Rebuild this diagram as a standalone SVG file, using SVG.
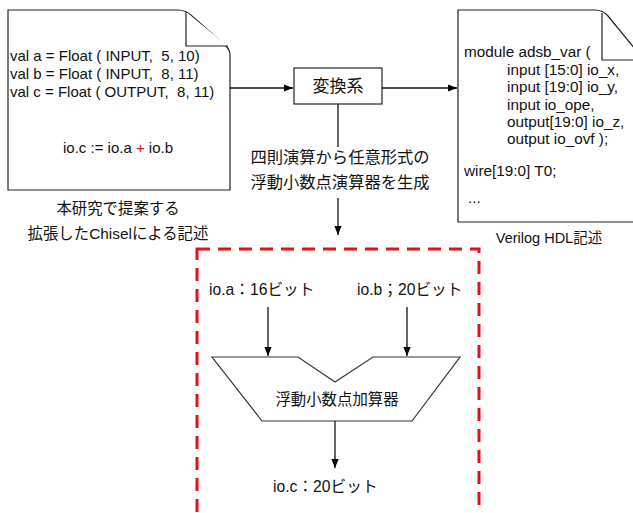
<svg xmlns="http://www.w3.org/2000/svg" width="633" height="513" viewBox="0 0 633 513">
<defs>
<marker id="ah" viewBox="0 0 10 10" refX="10" refY="5" markerWidth="9" markerHeight="9" markerUnits="userSpaceOnUse" orient="auto">
<path d="M0,1 L10,5 L0,9 Z" fill="#000"/>
</marker>
<style>
text{font-family:"Liberation Sans","Noto Sans CJK JP",sans-serif;fill:#111}
.doc{fill:#fff;stroke:#222;stroke-width:1.2}
.ln{fill:none;stroke:#111;stroke-width:1.3}
.code{font-size:15px;white-space:pre}
.vcode{font-size:15.3px;white-space:pre}
.jp{font-size:15.4px}
.bit{font-size:15.7px}
</style>
</defs>
<rect width="633" height="513" fill="#fff"/>
<g id="chisel-doc">
<path class="doc" d="M8,10 H178 Q186,10 192,16 L226,46 Q230,50 230,55 V190 H8 Z"/>
<path class="doc" fill="none" d="M186,12 V46 H228"/>
<text class="code" x="10" y="61" xml:space="preserve">val a = Float ( INPUT,  5, 10)</text>
<text class="code" x="10" y="79" xml:space="preserve">val b = Float ( INPUT,  8, 11)</text>
<text class="code" x="10" y="97" xml:space="preserve">val c = Float ( OUTPUT,  8, 11)</text>
<text class="code" x="118" y="153" text-anchor="middle">io.c := io.a <tspan fill="#e3101a">+</tspan> io.b</text>
<text class="jp" x="118" y="214" text-anchor="middle">本研究で提案する</text>
<text class="jp" x="118" y="239" text-anchor="middle">拡張したChiselによる記述</text>
</g>
<g id="converter">
<rect x="294" y="68" width="88" height="36" fill="#fff" stroke="#222" stroke-width="1.2"/>
<text x="338" y="92" text-anchor="middle" style="font-size:17px">変換系</text>
</g>
<g id="converter-label">
<text x="340" y="163" text-anchor="middle" style="font-size:16.3px">四則演算から任意形式の</text>
<text x="340" y="188" text-anchor="middle" style="font-size:16.3px">浮動小数点演算器を生成</text>
</g>
<g id="verilog-doc">
<path class="doc" d="M458,10 H595 Q603,10 608,16 L640,55 V222 H458 Z"/>
<path class="doc" fill="none" d="M602,13 V60 H640"/>
<text class="vcode" x="464" y="57">module adsb_var (</text>
<text class="vcode" x="507" y="74.5">input [15:0] io_x,</text>
<text class="vcode" x="507" y="92">input [19:0] io_y,</text>
<text class="vcode" x="507" y="109.5">input io_ope,</text>
<text class="vcode" x="507" y="127">output[19:0] io_z,</text>
<text class="vcode" x="507" y="144">output io_ovf );</text>
<text class="vcode" x="464" y="176">wire[19:0] T0;</text>
<text class="vcode" x="468" y="203">...</text>
<text x="549" y="243" text-anchor="middle" style="font-size:14.5px">Verilog HDL記述</text>
</g>
<g id="fp-unit-region">
<rect x="197" y="249" width="282" height="280" fill="none" stroke="#e3101a" stroke-width="3" stroke-dasharray="13 8"/>
<text class="bit" x="209" y="295">io.a：16ビット</text>
<text class="bit" x="357" y="295">io.b；20ビット</text>
</g>
<g id="fp-adder">
<path d="M212,357 H298 L335,382 L373,357 H460 L412,421 H262 Z" fill="#fff" stroke="#333" stroke-width="1.2"/>
<text x="337" y="405" text-anchor="middle" style="font-size:15.4px">浮動小数点加算器</text>
</g>
<g id="output-label">
<text class="bit" x="273" y="492">io.c：20ビット</text>
</g>
<g id="connectors">
<line class="ln" x1="230" y1="88" x2="293" y2="88" marker-end="url(#ah)"/>
<line class="ln" x1="382" y1="88" x2="457" y2="88" marker-end="url(#ah)"/>
<line class="ln" x1="338" y1="104" x2="338" y2="147"/>
<line class="ln" x1="338" y1="198" x2="338" y2="235" marker-end="url(#ah)"/>
<line class="ln" x1="268" y1="307" x2="268" y2="356" marker-end="url(#ah)"/>
<line class="ln" x1="407" y1="307" x2="407" y2="356" marker-end="url(#ah)"/>
<line class="ln" x1="335" y1="421" x2="335" y2="468" marker-end="url(#ah)"/>
</g>
</svg>
